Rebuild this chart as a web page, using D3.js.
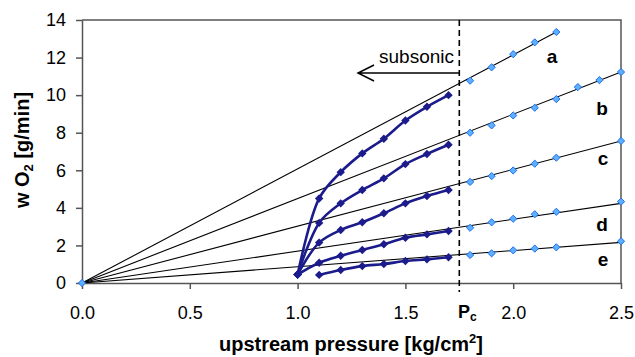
<!DOCTYPE html>
<html><head><meta charset="utf-8">
<script src="https://cdn.jsdelivr.net/npm/d3@7"></script>
<style>body{margin:0;background:#fff}svg{display:block;font-family:"Liberation Sans",Arial,sans-serif}</style>
</head><body><svg id="c" width="635" height="357"></svg>
<script>
// ---- data ----
const xTicks = [0, 0.5, 1.0, 1.5, 2.0, 2.5];
const yTicks = [0, 2, 4, 6, 8, 10, 12, 14];
const pc = 1.75;
const seriesNames = ["a", "b", "c", "d", "e"];
// subsonic (measured) curves
const subX = [1.0, 1.1, 1.2, 1.3, 1.4, 1.5, 1.6, 1.7];
const subA = [0.45, 4.5, 5.9, 6.9, 7.68, 8.65, 9.38, 10.0];
const subB = [0.45, 3.2, 4.24, 4.95, 5.57, 6.33, 6.87, 7.36];
const subC = [0.45, 2.15, 2.82, 3.23, 3.71, 4.24, 4.63, 4.95];
const subD = [0.45, 1.08, 1.45, 1.76, 2.06, 2.41, 2.59, 2.77];
const subE = [null, 0.43, 0.69, 0.90, 1.01, 1.17, 1.26, 1.37];
// supersonic (critical) points
const supX = [1.8, 1.9, 2.0, 2.1, 2.2, 2.3, 2.4, 2.5];
const supA = [10.77, 11.48, 12.18, 12.81, 13.36, null, null, null];
const supB = [8.0, 8.39, 8.92, 9.33, 9.79, 10.43, 10.80, 11.23];
const supC = [5.38, 5.69, 5.99, 6.35, 6.67, null, null, 7.56];
const supD = [2.94, 3.23, 3.42, 3.66, 3.79, null, null, 4.33];
const supE = [1.49, 1.58, 1.74, 1.83, 1.90, null, null, 2.22];
// straight lines through origin
const lineEndX = [2.2, 2.5, 2.5, 2.5, 2.5];
const lineEndY = [13.36, 11.23, 7.56, 4.24, 2.16];

// ---- drawing ----
const svg = d3.select("#c");
const X0 = 82, X1 = 621, Y0 = 283, Y1 = 20;
const x = d3.scaleLinear().domain([0, 2.5]).range([X0, X1]);
const y = d3.scaleLinear().domain([0, 14]).range([Y0, Y1]);
const axisCol = "#555";
const navy = "#1b1b8c";

svg.append("rect").attr("width", 635).attr("height", 357).attr("fill", "#fff");

// frame top/right
svg.append("path").attr("d", `M${X0},${Y1}H${X1}V${Y0}`).attr("fill", "none")
  .attr("stroke", axisCol).attr("stroke-width", 1.5);

// axes
const xAxis = svg.append("g").attr("transform", `translate(0,${Y0})`)
  .call(d3.axisBottom(x).tickValues(xTicks).tickFormat(d3.format(".1f")).tickSizeOuter(0).tickSizeInner(6).tickPadding(17));
const yAxis = svg.append("g").attr("transform", `translate(${X0},0)`)
  .call(d3.axisLeft(y).tickValues(yTicks).tickSizeOuter(0).tickSizeInner(6).tickPadding(10));
[xAxis, yAxis].forEach(g => {
  g.select(".domain").attr("stroke", axisCol).attr("stroke-width", 1.5);
  g.selectAll(".tick line").attr("stroke", axisCol).attr("stroke-width", 1.5);
  g.selectAll(".tick text").attr("font-size", 18).attr("fill", "#000")
    .attr("font-family", '"Liberation Sans",Arial,sans-serif');
});

// straight lines
const line = d3.line().x(d => x(d[0])).y(d => y(d[1]));
seriesNames.forEach((n, i) => {
  svg.append("path").attr("d", line([[0, 0], [lineEndX[i], lineEndY[i]]]))
    .attr("fill", "none").attr("stroke", "#000").attr("stroke-width", 1.1);
});

// dashed Pc line
svg.append("line").attr("x1", x(pc)).attr("x2", x(pc)).attr("y1", Y1).attr("y2", Y0 + 9)
  .attr("stroke", "#000").attr("stroke-width", 1.6).attr("stroke-dasharray", "6,4");

// subsonic curves
const subs = [subA, subB, subC, subD, subE];
const curve = d3.line().defined(d => d[1] != null).x(d => x(d[0])).y(d => y(d[1]))
  .curve(d3.curveCatmullRom.alpha(0.5));
const diamond = r => `M0,${-r}L${r},0L0,${r}L${-r},0Z`;
subs.forEach(arr => {
  const pts = subX.map((v, i) => [v, arr[i]]).filter(d => d[1] != null);
  svg.append("path").attr("d", curve(pts)).attr("fill", "none")
    .attr("stroke", navy).attr("stroke-width", 2.6);
  svg.append("g").selectAll("path").data(pts).join("path")
    .attr("d", diamond(4.2)).attr("transform", d => `translate(${x(d[0])},${y(d[1])})`)
    .attr("fill", navy);
});

// supersonic markers
const sups = [supA, supB, supC, supD, supE];
const supPts = [[0, 0]];
sups.forEach(arr => supX.forEach((v, i) => { if (arr[i] != null) supPts.push([v, arr[i]]); }));
svg.append("g").selectAll("path").data(supPts).join("path")
  .attr("d", diamond(3.6)).attr("transform", d => `translate(${x(d[0])},${y(d[1])})`)
  .attr("fill", "#5cb0ff").attr("stroke", "#1f6fe8").attr("stroke-width", 1);

// series labels
const labelPos = [[552, 63], [602, 115], [603, 165], [602, 231], [603, 266]];
seriesNames.forEach((n, i) => {
  svg.append("text").attr("x", labelPos[i][0]).attr("y", labelPos[i][1])
    .attr("text-anchor", "middle").attr("font-size", 19).attr("font-weight", "bold").text(n);
});

// subsonic label and arrow
svg.append("text").attr("x", 454).attr("y", 63).attr("text-anchor", "end")
  .attr("font-size", 19).text("subsonic");
svg.append("path").attr("d", `M${x(pc)},73H358M374,65L358,73L374,81`)
  .attr("fill", "none").attr("stroke", "#000").attr("stroke-width", 1.5);

// Pc label
const pcT = svg.append("text").attr("x", 458).attr("y", 318).attr("font-size", 18).attr("font-weight", "bold");
pcT.append("tspan").text("P");
pcT.append("tspan").attr("font-size", 12).attr("dy", 3).text("c");

// axis titles
const xt = svg.append("text").attr("x", 351).attr("y", 351).attr("text-anchor", "middle")
  .attr("font-size", 20).attr("font-weight", "bold");
xt.append("tspan").text("upstream pressure [kg/cm");
xt.append("tspan").attr("font-size", 13).attr("dy", -8).text("2");
xt.append("tspan").attr("dy", 8).text("]");

const yt = svg.append("text").attr("transform", "translate(29,150) rotate(-90)")
  .attr("text-anchor", "middle").attr("font-size", 20).attr("font-weight", "bold");
yt.append("tspan").text("w O");
yt.append("tspan").attr("font-size", 13).attr("dy", 4).text("2");
yt.append("tspan").attr("dy", -4).text(" [g/min]");
</script></body></html>
